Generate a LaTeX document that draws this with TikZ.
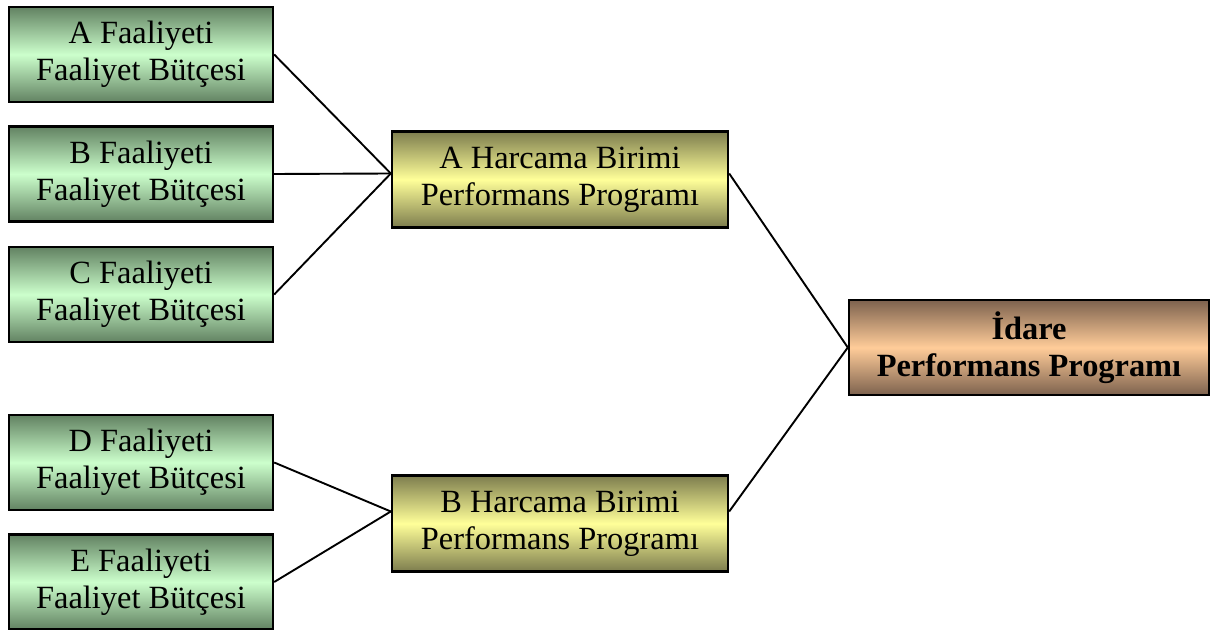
\documentclass[tikz,border=0pt]{standalone}
\usepackage{fontspec}
\setmainfont{Liberation Serif}
\usetikzlibrary{calc}

\definecolor{gedge}{RGB}{98,130,98}
\definecolor{gmid}{RGB}{204,255,204}
\definecolor{yedge}{RGB}{125,125,78}
\definecolor{ymid}{RGB}{255,255,153}
\definecolor{oedge}{RGB}{125,98,78}
\definecolor{omid}{RGB}{255,204,153}

\tikzset{
 kutu/.style={draw=black, line width=1.2pt, align=center, inner sep=0pt,
  font=\fontsize{16.2}{18.5}\selectfont},
 faaliyet/.style={kutu, minimum width=132pt, minimum height=47.5pt,
  top color=gedge, bottom color=gedge, middle color=gmid},
 harcama/.style={kutu, minimum width=168pt, minimum height=48pt,
  top color=yedge, bottom color=yedge, middle color=ymid},
 idare/.style={kutu, minimum width=180pt, minimum height=47.5pt,
  top color=oedge, bottom color=oedge, middle color=omid},
 baglanti/.style={black, line width=0.95pt}
}

\begin{document}
\begin{tikzpicture}[x=0.5pt, y=-0.5pt]
\useasboundingbox (0,0) rectangle (1223,630);
% faaliyet butceleri
\foreach \n/\y in {A/54.5, B/174, C/294.5, D/462.5, E/582} {
 \node[faaliyet] (f\n) at (141,\y) {\n{} Faaliyeti\\Faaliyet Bütçesi};
}
% harcama birimleri
\node[harcama] (hA) at (560,179.5) {A Harcama Birimi\\Performans Programı};
\node[harcama] (hB) at (560,523.5) {B Harcama Birimi\\Performans Programı};
\node[idare] (id) at (1029,347.5) {\textbf{İdare}\\\textbf{Performans Programı}};
\coordinate (hAin) at ([yshift=3pt]hA.west);
\coordinate (hAout) at ([yshift=3pt]hA.east);
\coordinate (hBin) at ([yshift=6pt]hB.west);
\coordinate (hBout) at ([yshift=6pt]hB.east);
% baglantilar
\foreach \n in {A,B,C} \draw[baglanti] (f\n.east) -- (hAin);
\foreach \n in {D,E} \draw[baglanti] (f\n.east) -- (hBin);
\draw[baglanti] (hAout) -- (id.west);
\draw[baglanti] (hBout) -- (id.west);
\end{tikzpicture}
\end{document}
